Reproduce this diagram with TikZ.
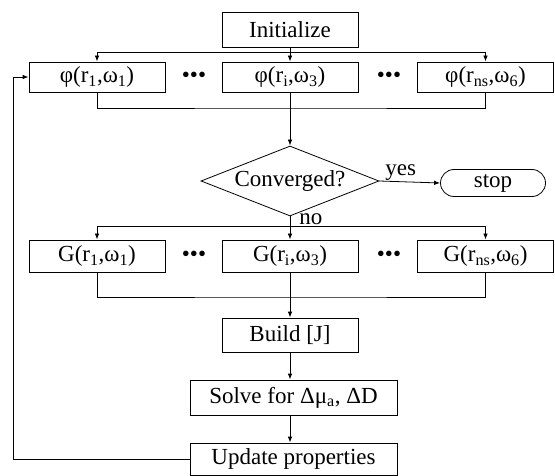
\documentclass[tikz,border=0pt]{standalone}
\usepackage{fontspec}
\setmainfont{Liberation Serif}
\usetikzlibrary{shapes.geometric,shapes.misc,arrows.meta}

\begin{document}
\begin{tikzpicture}[
            x = 1pt, y = -1pt,
            every node/.style = {font = \fontsize{23}{26}\selectfont, inner sep = 0pt},
            box/.style = {draw, rectangle, minimum width = 136pt, minimum height = 32pt},
            widebox/.style = {box, minimum width = 207pt},
            decision/.style = {draw, diamond, aspect = 3, minimum width = 178pt, minimum height = 70pt},
            terminal/.style = {draw, rounded rectangle, minimum width = 105pt, minimum height = 27pt},
            arr/.style = {-{Latex[length = 6pt, width = 4.5pt]}},
            line width = 0.8pt
            ]
            \useasboundingbox (0,0) rectangle (555,476);
            % top part
            \node[box, minimum height = 35pt] (init) at (290,29.5) {Initialize};
            \node[box, minimum height = 30pt] (phi1) at (97,77) {φ(r\textsubscript{1},ω\textsubscript{1})};
            \node[box, minimum height = 30pt] (phii) at (290,77) {φ(r\textsubscript{i},ω\textsubscript{3})};
            \node[box, minimum height = 30pt] (phins) at (485.5,77) {φ(r\textsubscript{ns},ω\textsubscript{6})};
            \node (dotsa) at (194,77) {•••};
            \node (dotsb) at (389,77) {•••};
            \coordinate (splita) at (290,52);
            \coordinate (mergea) at (290,108);
            \draw[arr] (init) -- (phii);
            \draw[arr] (splita) -| (phi1.north);
            \draw[arr] (splita) -| (phins.north);
            \draw (phi1.south) |- (mergea) -| (phins.south);
            % test
            \node[decision] (conv) at (290,181) {Converged?};
            \node[terminal] (stop) at (493,183) {stop};
            \draw[arr] (phii) -- (conv);
            \draw[arr] (conv.east) -- node[pos = 0.35, above = 1pt] {yes} (stop.west);
            % middle part
            \node[box] (g1) at (97,256) {G(r\textsubscript{1},ω\textsubscript{1})};
            \node[box] (gi) at (290,256) {G(r\textsubscript{i},ω\textsubscript{3})};
            \node[box] (gns) at (485.5,256) {G(r\textsubscript{ns},ω\textsubscript{6})};
            \node (dotsc) at (194,256) {•••};
            \node (dotsd) at (389,256) {•••};
            \coordinate (splitb) at (290,226);
            \coordinate (mergeb) at (290,297);
            \draw[arr] (conv.south) -- (gi);
            \node[anchor = south west] (nolabel) at ([xshift = 9pt, yshift = 1pt]splitb) {no};
            \draw[arr] (splitb) -| (g1.north);
            \draw[arr] (splitb) -| (gns.north);
            \draw (g1.south) |- (mergeb) -| (gns.south);
            % bottom part
            \node[box, minimum height = 34pt] (build) at (290,335) {Build [J]};
            \node[widebox, minimum height = 35pt] (solve) at (293.5,397.5) {Solve for Δμ\textsubscript{a}, ΔD};
            \node[widebox] (update) at (293.5,459) {Update properties};
            \coordinate (back) at (13,77);
            \draw[arr] (gi) -- (build);
            \draw[arr] (build) -- (build |- solve.north);
            \draw[arr] (build |- solve.south) -- (build |- update.north);
            \draw[arr] (update.west) -| (back) -- (phi1.west);
\end{tikzpicture}
\end{document}
